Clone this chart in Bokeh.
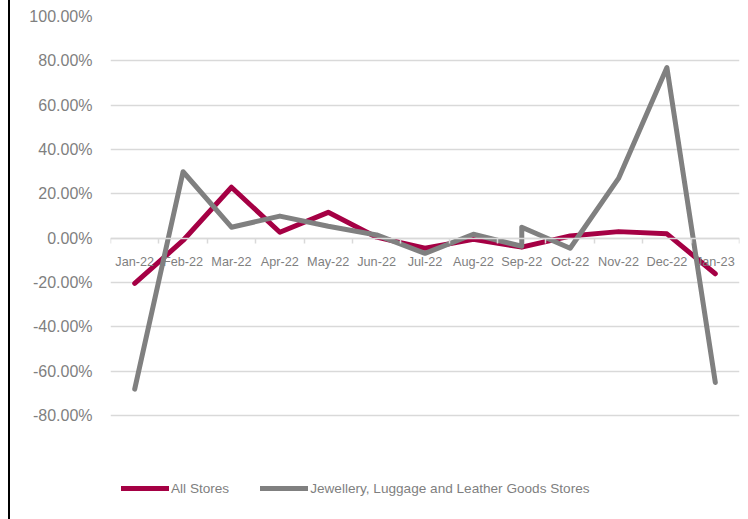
from bokeh.plotting import figure
from bokeh.models import (Range1d, LinearAxis, FixedTicker,
                          NumeralTickFormatter, Legend, LegendItem)
from bokeh.embed import file_html
from bokeh.resources import INLINE

months = ["Jan-22", "Feb-22", "Mar-22", "Apr-22", "May-22", "Jun-22", "Jul-22",
          "Aug-22", "Sep-22", "Oct-22", "Nov-22", "Dec-22", "Jan-23"]
all_stores = [-0.203, -0.01, 0.23, 0.027, 0.117, 0.005, -0.045, -0.005, -0.04,
              0.01, 0.03, 0.02, -0.16]
jewel_months = months[:9] + ["Sep-22"] + months[9:]
jewellery = [-0.68, 0.30, 0.05, 0.10, 0.054, 0.015, -0.068, 0.018, -0.036, 0.05,
             -0.045, 0.27, 0.77, -0.65]
y_ticks = [-0.8, -0.6, -0.4, -0.2, 0.0, 0.2, 0.4, 0.6, 0.8, 1.0]

TXT = "#7f7f7f"
GRID = "#d9d9d9"
FONT = "Liberation Sans"

pos = {m: i + 0.5 for i, m in enumerate(months)}
x_all = [pos[m] for m in months]
x_jewel = [pos[m] for m in jewel_months]

# frame extends below -80% to hold the legend (no gridline there)
p = figure(width=738, height=519, x_range=Range1d(0, len(months)), y_range=Range1d(-1.25, 1.0),
           output_backend="svg", toolbar_location=None, x_axis_location=None,
           min_border_left=100, min_border_right=9, min_border_top=16, min_border_bottom=4)
p.styles = {"margin-left": "8px", "border-left": "2px solid black"}
p.outline_line_color = None
p.xgrid.grid_line_color = None
p.ygrid.ticker = FixedTicker(ticks=y_ticks)
p.ygrid.grid_line_color = GRID
p.ygrid.grid_line_width = 1.5

p.yaxis.ticker = FixedTicker(ticks=y_ticks)
p.yaxis.formatter = NumeralTickFormatter(format="0.00%")
p.yaxis.axis_line_color = None
p.yaxis.major_tick_line_color = None
p.yaxis.minor_tick_line_color = None
p.yaxis.major_label_standoff = 12
p.yaxis.major_label_text_font = FONT
p.yaxis.major_label_text_font_size = "16px"
p.yaxis.major_label_text_color = TXT

# category axis fixed at y = 0: labels at category centres, tick marks between categories
xa = LinearAxis(fixed_location=0, axis_line_color=GRID, axis_line_width=1.5,
                ticker=FixedTicker(ticks=x_all, minor_ticks=list(range(len(months) + 1))),
                major_label_overrides={pos[m]: m for m in months},
                major_tick_line_color=None,
                minor_tick_line_color=GRID, minor_tick_line_width=1.5,
                minor_tick_in=0, minor_tick_out=5,
                major_label_standoff=11,
                major_label_text_font=FONT, major_label_text_font_size="12.7px",
                major_label_text_color=TXT)
p.add_layout(xa, "below")

r1 = p.line(x_all, all_stores, line_color="#a50044", line_width=5,
            line_cap="round", line_join="round")
r2 = p.line(x_jewel, jewellery, line_color="#808080", line_width=5,
            line_cap="round", line_join="round")

legend = Legend(items=[LegendItem(label="All Stores", renderers=[r1]),
                       LegendItem(label="Jewellery, Luggage and Leather Goods Stores", renderers=[r2])],
                orientation="horizontal", location=(11, 17), padding=0, margin=0,
                spacing=31, glyph_width=48, glyph_height=20, label_standoff=2,
                border_line_color=None, background_fill_alpha=0,
                label_text_font=FONT, label_text_font_size="13.6px", label_text_color=TXT)
p.add_layout(legend, "center")

open("out.html", "w").write(file_html(p, INLINE))
